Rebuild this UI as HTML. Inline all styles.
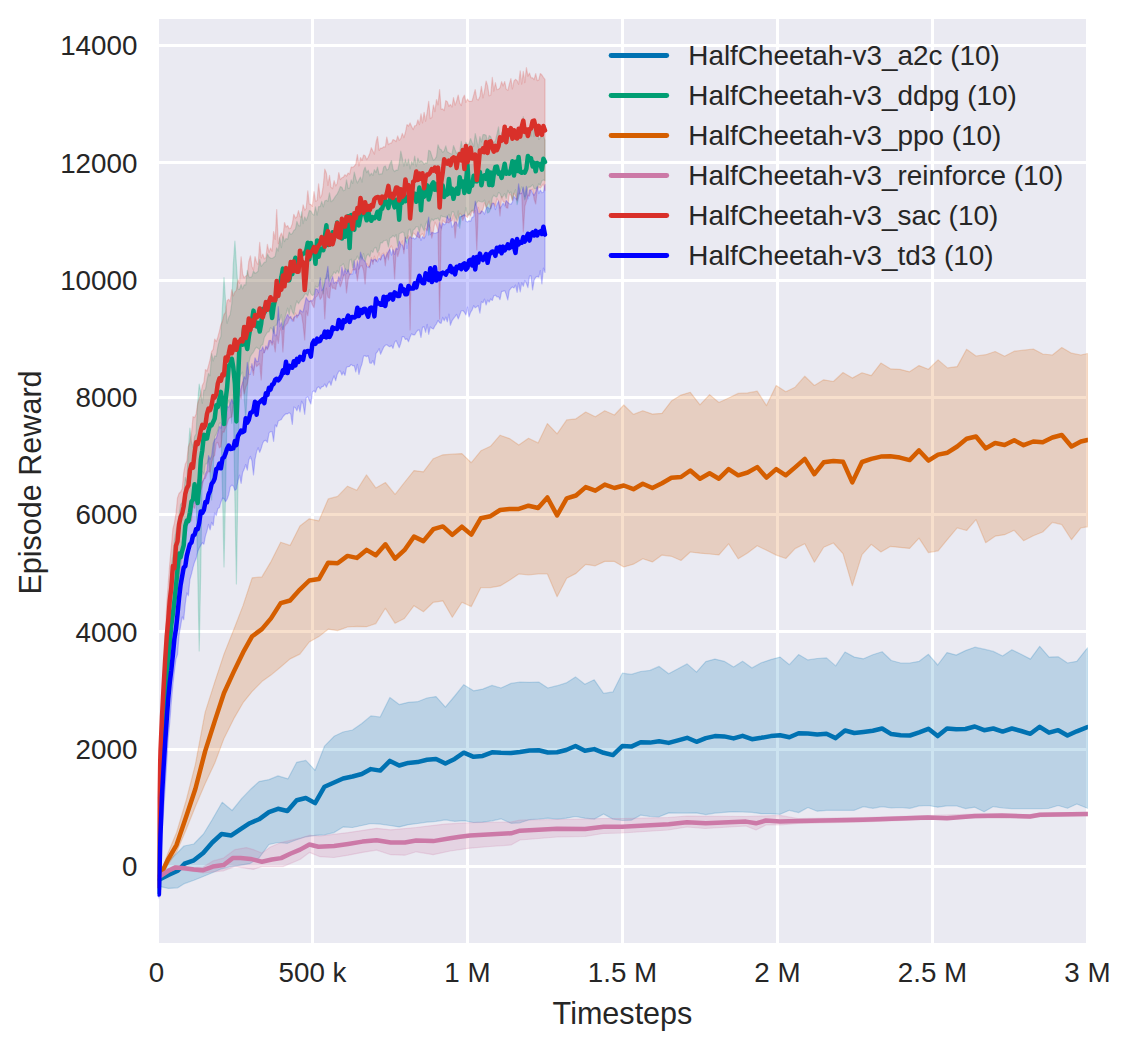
<!DOCTYPE html>
<html lang="en"><head><meta charset="utf-8"><title>HalfCheetah-v3 training curves</title>
<style>
html,body{margin:0;padding:0;background:#fff;}
body{width:1130px;height:1049px;overflow:hidden;}
svg{display:block;}
text{font-family:"Liberation Sans","DejaVu Sans",sans-serif;fill:#262626;}
.tk{font-size:27.78px;}
.lb{font-size:30.56px;}
.lg{font-size:27.88px;}
.band path{fill-opacity:.2;stroke-opacity:.2;stroke-width:1.2;stroke-linejoin:round;}
.mean path{fill:none;stroke-width:4.5;stroke-linejoin:round;stroke-linecap:round;}
.leg line{stroke-width:4.9;stroke-linecap:round;}
</style></head><body>
<svg width="1130" height="1049" viewBox="0 0 1130 1049">
<defs><clipPath id="ax"><rect x="157.5" y="19" width="930.4" height="924"/></clipPath>
</defs>
<rect x="0" y="0" width="1130" height="1049" fill="#ffffff"/>
<rect x="159" y="19" width="927" height="924" fill="#eaeaf2"/>
<g fill="#ffffff" shape-rendering="crispEdges">
<rect x="311" y="19" width="3" height="924"/>
<rect x="466" y="19" width="3" height="924"/>
<rect x="621" y="19" width="3" height="924"/>
<rect x="776" y="19" width="3" height="924"/>
<rect x="931" y="19" width="3" height="924"/>
<rect x="159" y="865" width="927" height="3"/>
<rect x="159" y="748" width="927" height="3"/>
<rect x="159" y="630" width="927" height="3"/>
<rect x="159" y="513" width="927" height="3"/>
<rect x="159" y="396" width="927" height="3"/>
<rect x="159" y="279" width="927" height="3"/>
<rect x="159" y="161" width="927" height="3"/>
<rect x="159" y="44" width="927" height="3"/>
</g>
<g class="band" clip-path="url(#ax)">
<path d="M159.5 876 L167.8 861.7 L176.6 853.5 L184 846 L193.8 844 L203.5 834 L212.3 819.5 L222.2 802.3 L232.1 810.5 L241.8 798.4 L251.2 788.7 L259 781.6 L269 779.6 L278 775.9 L288 778.8 L296.7 762.3 L305.8 760.4 L315.1 770.3 L324.5 746.2 L334.1 736.3 L343.1 732 L352.5 730 L361.8 723.5 L370.9 715.9 L380.2 717 L389.9 697.5 L399.2 704.6 L408.3 702.3 L417.6 701.7 L427 698 L436 696.6 L445.4 707.1 L454.7 696 L463.8 684.7 L473.6 690.8 L482.7 689.1 L492 685.4 L501 688 L511 683.4 L520 682 L529.4 682.3 L538.7 682 L547.8 688 L557.1 685.7 L566.2 682.9 L575.5 676.9 L584.9 684.3 L594.2 679.8 L603.6 693.4 L612.9 691.9 L622.3 673.2 L631.3 674.4 L640.7 671.5 L650 670.4 L659.1 666.4 L668.7 673.8 L678 668.7 L687.1 663.9 L696.5 672.1 L705.8 661.6 L714.9 659.1 L724.2 661.3 L733.6 667 L742.6 661.3 L752 667.9 L761.3 662.8 L770.8 659.6 L780.1 657.1 L789.4 664.7 L798.6 654.6 L807.9 659.9 L817.2 658.5 L826.5 657.9 L835.7 665.9 L845 652 L854.3 657.1 L863.5 658.8 L872.8 654.8 L882.1 651.7 L891.3 660.5 L900.6 663 L909.9 663 L919.2 661.3 L928.4 654.3 L937.7 665 L947 652.6 L956.2 655.1 L965.5 650.6 L974.8 647.2 L984.1 649.2 L993.3 651.4 L1002.6 656 L1011.9 649.7 L1021.1 654.3 L1030.4 659.1 L1039.7 646.3 L1049 657.1 L1058.2 656.8 L1067.5 663 L1076.8 661.3 L1087.5 647.8 L1087.5 808.3 L1076.8 804 L1067.5 808.3 L1058.2 805.5 L1049 808.3 L1039.7 808.6 L1030.4 808.6 L1021.1 808.6 L1011.9 808.6 L1002.6 808 L993.3 806.6 L984.1 811.7 L974.8 807.2 L965.5 808.6 L956.2 805.8 L947 805.8 L937.7 807.2 L928.4 805.5 L919.2 805.8 L909.9 808.3 L900.6 807.5 L891.3 808 L882.1 806.6 L872.8 808.3 L863.5 806.6 L854.3 810.3 L845 810.3 L835.7 810.3 L826.5 810.3 L817.2 811.2 L807.9 807.5 L798.6 812.6 L789.4 810.3 L780.1 814.3 L770.8 813.7 L761.3 813.7 L752 812.3 L742.6 812 L733.6 811.7 L724.2 812.3 L714.9 813.1 L705.8 814.6 L696.5 812.9 L687.1 813.1 L678 813.1 L668.7 812.9 L659.1 816.8 L650 816.5 L640.7 815.1 L631.3 820.2 L622.3 820.5 L612.9 819.1 L603.6 814 L594.2 819.1 L584.9 818.2 L575.5 816.5 L566.2 818.2 L557.1 819.1 L547.8 818.2 L538.7 819.1 L529.4 819.7 L520 822.8 L511 823.3 L501 818.8 L492 820.8 L482.7 822.2 L473.6 822.5 L463.8 820.7 L454.7 821.3 L445.4 819.8 L436 821.3 L427 822.1 L417.6 823.5 L408.3 824.7 L399.2 826.9 L389.9 825.5 L380.2 824.1 L370.9 823.5 L361.8 825.5 L352.5 827.5 L343.1 826.9 L334.1 832.6 L324.5 834.8 L315.1 835.4 L305.8 836.8 L296.7 839.7 L287.4 843.3 L278 842.5 L268.9 844.5 L259 858 L249.7 863.7 L240.6 865.2 L231.3 866.6 L221.6 868.8 L212.3 872.8 L203.2 876.5 L193.9 880.2 L184.5 883.6 L177.8 887.8 L168.4 888.4 L159.5 886.4Z" fill="#0072b2" stroke="#0072b2"/>
<path d="M158.9 884 L160.5 780 L162 729.9 L163.6 692 L165.1 659.2 L166.7 627.4 L168.2 603.9 L169.8 584.2 L171.3 565.9 L172.9 555.1 L174.4 540.5 L176 531.1 L177.5 523.4 L179.1 514.9 L180.6 504.3 L182.2 502.6 L183.7 495.4 L185.3 477.3 L186.8 482.1 L188.4 448.5 L189.9 428 L191.5 442 L193 447.6 L194.6 436.5 L196.1 433.7 L197.7 402.5 L199.2 384 L200.8 392.6 L202.3 403.3 L203.9 390 L205.4 389.9 L207 380.2 L208.5 373.4 L210.1 375.8 L211.6 353.6 L213.2 361 L214.7 355.9 L216.3 356.3 L217.8 347.1 L219.4 340.2 L220.9 336.6 L222.5 306.5 L224 277.5 L225.6 302 L227.1 323.3 L228.7 317.6 L230.2 314.4 L231.8 303.5 L233.3 264.6 L234.9 241 L236.4 264.5 L238 289 L239.5 289.3 L241.1 284.5 L242.6 288.9 L244.2 284.8 L245.7 285 L247.3 270.3 L248.8 276.7 L250.4 277.5 L251.9 276.4 L253.5 271 L255 273.3 L256.6 272.6 L258.1 271.1 L259.7 259.4 L261.2 266.3 L262.8 264.4 L264.3 262.4 L265.9 261.9 L267.4 253.9 L269 257 L270.5 258.1 L272.1 258.5 L273.6 257.5 L275.2 256.2 L276.7 247.8 L278.3 251 L279.8 237.7 L281.4 247.6 L282.9 235.9 L284.5 241.6 L286 238.5 L287.6 239.3 L289.2 232.1 L290.7 234.4 L292.3 233.5 L293.8 230.4 L295.4 229.3 L296.9 221.4 L298.5 225.6 L300 226 L301.6 211.9 L303.1 223.6 L304.7 216.8 L306.2 220.5 L307.8 216.2 L309.3 210.6 L310.9 211 L312.4 214.1 L314 215.2 L315.5 206.8 L317.1 215.1 L318.6 206.7 L320.2 206.6 L321.7 201.4 L323.3 206.8 L324.8 200.9 L326.4 200.2 L327.9 201.3 L329.5 192.9 L331 201.7 L332.6 200.6 L334.1 198.4 L335.7 195.9 L337.2 194.1 L338.8 190.7 L340.3 186.6 L341.9 187.3 L343.4 190.8 L345 190 L346.5 179.9 L348.1 188.3 L349.6 188.2 L351.2 179.9 L352.7 183.4 L354.3 172.2 L355.8 178.6 L357.4 183.1 L358.9 179.9 L360.5 177.1 L362 182.2 L363.6 171 L365.1 167.1 L366.7 172.6 L368.2 170.2 L369.8 175.8 L371.3 173.2 L372.9 175.4 L374.4 169.7 L376 172.5 L377.5 167.1 L379.1 174.6 L380.6 173.9 L382.2 173.8 L383.7 167.1 L385.3 166 L386.8 170.1 L388.4 169.2 L389.9 164.1 L391.5 160.6 L393 169.3 L394.6 171.6 L396.1 170.1 L397.7 170.4 L399.2 163.7 L400.8 151 L402.3 158.2 L403.9 166.2 L405.4 159.2 L407 165.6 L408.5 159.2 L410.1 168.8 L411.6 161.6 L413.2 164.8 L414.7 156.1 L416.3 166.5 L417.9 158.1 L419.4 162.2 L421 160.7 L422.5 161.8 L424.1 164.2 L425.6 162.9 L427.2 163.1 L428.7 150.3 L430.3 151.2 L431.8 156.1 L433.4 160.3 L434.9 159.3 L436.5 156.6 L438 144.8 L439.6 148.9 L441.1 149.6 L442.7 152.4 L444.2 150.8 L445.8 145.9 L447.3 151.8 L448.9 152.8 L450.4 153.5 L452 154.2 L453.5 145.5 L455.1 149.8 L456.6 153.4 L458.2 152 L459.7 152 L461.3 141.3 L462.8 151.1 L464.4 151.5 L465.9 142.3 L467.5 145 L469 143.7 L470.6 138.5 L472.1 142.4 L473.7 146.5 L475.2 133.5 L476.8 140.6 L478.3 148 L479.9 136.5 L481.4 142 L483 134.6 L484.5 134.6 L486.1 135.3 L487.6 142.2 L489.2 135.5 L490.7 136.8 L492.3 141 L493.8 142.4 L495.4 140.9 L496.9 134.5 L498.5 126.9 L500 141 L501.6 132.5 L503.1 138.3 L504.7 137.1 L506.2 133.5 L507.8 134 L509.3 137.9 L510.9 133.1 L512.4 134.2 L514 131.6 L515.5 139.1 L517.1 137.9 L518.6 135.9 L520.2 138.4 L521.7 131.4 L523.3 116.6 L524.8 130.3 L526.4 136.7 L527.9 136 L529.5 130.5 L531 136.1 L532.6 124.9 L534.1 136.7 L535.7 123.2 L537.2 125 L538.8 139.4 L540.3 137.8 L541.9 127.6 L543.4 136.3 L545 140.2 L545 180.7 L543.4 179.9 L541.9 180.8 L540.3 185.4 L538.8 183.7 L537.2 188 L535.7 188.6 L534.1 188.6 L532.6 184.6 L531 186.4 L529.5 187.2 L527.9 187.3 L526.4 194.9 L524.8 200 L523.3 192.4 L521.7 186.8 L520.2 191.7 L518.6 197.4 L517.1 204.6 L515.5 189.7 L514 193.5 L512.4 199.8 L510.9 191.8 L509.3 193.6 L507.8 190.3 L506.2 198.5 L504.7 193.6 L503.1 196.1 L501.6 198 L500 193.4 L498.5 192.5 L496.9 197.1 L495.4 196.6 L493.8 195.2 L492.3 197.7 L490.7 208.7 L489.2 211.9 L487.6 213 L486.1 206.4 L484.5 200 L483 202 L481.4 201.8 L479.9 201.5 L478.3 200.8 L476.8 202.5 L475.2 205.8 L473.7 210.8 L472.1 210.4 L470.6 212 L469 214.3 L467.5 215.4 L465.9 207.6 L464.4 215.6 L462.8 216 L461.3 216.9 L459.7 228.2 L458.2 210.9 L456.6 220 L455.1 216.6 L453.5 211.6 L452 211.9 L450.4 218.9 L448.9 214.3 L447.3 218.1 L445.8 217.3 L444.2 216.6 L442.7 216.7 L441.1 215.5 L439.6 221.2 L438 218 L436.5 218.9 L434.9 218.9 L433.4 220.7 L431.8 218.9 L430.3 222.2 L428.7 235.3 L427.2 220.9 L425.6 224.4 L424.1 230.8 L422.5 227.5 L421 224.2 L419.4 232.6 L417.9 226.6 L416.3 226.6 L414.7 229 L413.2 230.1 L411.6 237.6 L410.1 229.1 L408.5 230.2 L407 243.4 L405.4 240.6 L403.9 232.6 L402.3 232 L400.8 233 L399.2 233.8 L397.7 246 L396.1 234.7 L394.6 236.9 L393 235.4 L391.5 237.3 L389.9 238.2 L388.4 246.9 L386.8 240.1 L385.3 240.5 L383.7 240.8 L382.2 242.9 L380.6 242.6 L379.1 249.7 L377.5 252.6 L376 247.4 L374.4 248.1 L372.9 252.4 L371.3 250.6 L369.8 256.8 L368.2 254 L366.7 255.7 L365.1 261.6 L363.6 253.5 L362 259.8 L360.5 256.2 L358.9 259.7 L357.4 256.1 L355.8 259.7 L354.3 260.1 L352.7 267.9 L351.2 259.2 L349.6 260.3 L348.1 272 L346.5 270.2 L345 268.7 L343.4 263.6 L341.9 265.3 L340.3 266.1 L338.8 273.3 L337.2 270.5 L335.7 273.5 L334.1 271.8 L332.6 275.1 L331 276.9 L329.5 281.7 L327.9 274.9 L326.4 278.9 L324.8 278.7 L323.3 293.6 L321.7 279.3 L320.2 279.7 L318.6 286 L317.1 287.4 L315.5 286.1 L314 294.4 L312.4 295.5 L310.9 293.9 L309.3 289.6 L307.8 295.9 L306.2 293.6 L304.7 294.4 L303.1 297.8 L301.6 299.1 L300 301.1 L298.5 303.8 L296.9 300.8 L295.4 305.7 L293.8 314.4 L292.3 311.9 L290.7 305.7 L289.2 314.8 L287.6 308.2 L286 314.2 L284.5 318.6 L282.9 329.5 L281.4 314.5 L279.8 320.1 L278.3 320.1 L276.7 325.1 L275.2 325.4 L273.6 333.5 L272.1 328.7 L270.5 327.7 L269 331.9 L267.4 332.2 L265.9 334.7 L264.3 337.5 L262.8 344.8 L261.2 345.4 L259.7 349.4 L258.1 348.4 L256.6 347.2 L255 348.9 L253.5 352.1 L251.9 354 L250.4 356.3 L248.8 363.1 L247.3 390.1 L245.7 420 L244.2 397.5 L242.6 372 L241.1 374.3 L239.5 377.7 L238 481.7 L236.4 584 L234.9 499.5 L233.3 394.4 L231.8 423.3 L230.2 406 L228.7 400.4 L227.1 404.9 L225.6 490.9 L224 567 L222.5 491.2 L220.9 423.1 L219.4 423.2 L217.8 430.3 L216.3 434.1 L214.7 436.7 L213.2 469.6 L211.6 500 L210.1 474.3 L208.5 458.9 L207 463.8 L205.4 464.1 L203.9 474.6 L202.3 471.4 L200.8 566.3 L199.2 651 L197.7 569.4 L196.1 493.3 L194.6 490.4 L193 503.9 L191.5 507 L189.9 509.2 L188.4 512.3 L186.8 518.5 L185.3 522.9 L183.7 536.7 L182.2 541.9 L180.6 547.3 L179.1 566.1 L177.5 578.3 L176 587.4 L174.4 600.8 L172.9 616.7 L171.3 632.1 L169.8 653.7 L168.2 679.2 L166.7 703.9 L165.1 721.3 L163.6 747.4 L162 779 L160.5 823.8 L158.9 892Z" fill="#009e73" stroke="#009e73"/>
<path d="M159.5 874 L162.3 868 L167.8 853.5 L176.6 832.5 L186.3 800 L195.4 764.3 L205.1 712.4 L214.9 681.6 L224 654.1 L233.7 629.7 L243.1 605.4 L252.2 577.8 L261.9 576.9 L271 561.6 L280.7 542.2 L290.1 545.4 L299.9 525.9 L309.3 518.8 L318.9 520.8 L328.2 498.9 L337.6 496.4 L347.5 486.2 L356.8 490.2 L366.5 474.9 L375.8 487.9 L385.4 482.5 L395.1 494.4 L404.4 482.5 L414 470.6 L423.4 471.8 L433.3 458.7 L442.9 454.8 L452.3 454.2 L461.9 453.6 L471.3 462.7 L480.9 450.8 L490.5 446.3 L500.1 435.2 L509.5 438.6 L518.8 445.1 L528.5 438.3 L538.1 442.9 L547.4 423.6 L557.1 433.8 L566.7 419.9 L576 418.8 L585.7 412 L595.3 416.8 L604.8 410.7 L614.4 415 L623.8 405 L633.4 414.4 L642.8 410.7 L652.4 414.1 L662 413.3 L671.4 401.1 L681 395.1 L690.3 392.3 L700 404.8 L709.6 394.6 L718.9 402.5 L728.6 398 L738.2 393.4 L747.6 392.9 L757.2 391.2 L766.5 405.6 L776.2 385.5 L785.8 391.7 L795.1 387.2 L804.8 376.2 L814.4 385.5 L823.7 379.8 L833.4 381.5 L843 372.5 L852.3 378.1 L862 372.8 L871.3 375.6 L880.9 363.1 L890.3 368.8 L899.9 369.3 L909.6 371.8 L919 365.6 L928.4 369.3 L938.1 359.9 L947.5 367.9 L957.2 366.6 L966.6 349.3 L976 356 L985.7 354.7 L995.1 351.5 L1004.6 356.2 L1014.2 351.2 L1023.6 350.2 L1033.3 349 L1042.7 354 L1052.4 355 L1061.8 347.5 L1071.5 353.2 L1080.9 355 L1087.5 353.5 L1087.5 526.8 L1080.9 527.8 L1071.5 539.7 L1061.8 524.6 L1052.4 522.3 L1042.7 532 L1033.3 535.7 L1023.6 540.7 L1014.2 530.3 L1004.6 534.7 L995.1 536.2 L985.7 542.7 L976 519.6 L966.6 530.5 L957.2 527.8 L947.5 539.4 L938.1 550.8 L928.4 552.6 L919 538.2 L909.6 548.4 L899.9 547.4 L890.3 546.4 L880.9 552 L871.3 544.4 L862 554.6 L852.3 585.7 L843 553.7 L833.4 543 L823.7 547.2 L814.4 562.2 L804.8 543.8 L795.1 548.6 L785.8 558.5 L776.2 555.1 L766.5 550.3 L757.2 545.8 L747.6 552.9 L738.2 558.8 L728.6 543.8 L718.9 554.9 L709.6 554 L700 553.2 L690.3 552 L681 560.5 L671.4 556.3 L662 555.1 L652.4 561.9 L642.8 558.8 L633.4 564.2 L623.8 567 L614.4 561.4 L604.8 561.4 L595.3 565.8 L585.7 564.4 L576 573.4 L566.7 578.2 L557.1 596.7 L547.4 574 L538.1 574 L528.5 574.8 L518.8 574 L509.5 580.2 L500.1 585.9 L490.5 587.6 L480.9 587.6 L471.3 606.6 L461.9 602.3 L452.3 617.3 L442.9 600.9 L433.3 602.3 L423.4 611.7 L414 605.7 L404.4 618.5 L395.1 623.3 L385.4 608.3 L375.8 623.6 L366.5 626.7 L356.8 626.4 L347.5 627 L337.6 630.6 L328.2 629.2 L318.9 636.6 L309.3 642 L299.9 654.1 L290.1 658.9 L280.7 667 L271 675.1 L261.9 681.6 L252.2 691.4 L243.1 702.7 L233.7 718.9 L224 738.4 L214.9 762.7 L205.1 783.8 L195.4 806.5 L186.3 829.2 L176.6 852 L167.8 865 L162.3 873 L159.5 878Z" fill="#d55e00" stroke="#d55e00"/>
<path d="M159.5 875.5 L168.4 869.5 L175.5 865.5 L193.9 867.6 L203.2 867 L212.9 860.9 L223.6 858.1 L235 849.6 L246.3 847.6 L253.4 849.6 L261.9 853 L270.4 847 L281 842.5 L300 838.2 L309.4 835.4 L320 836 L348.2 832.6 L376.6 828.3 L390.7 829.8 L416.2 827.5 L444.5 824.1 L470 822.7 L511 822 L520 820 L557 819.5 L603 818.5 L622 818.5 L668 817.5 L687 816 L746 816.5 L780 815.4 L798 818.5 L863 817.5 L928 815.5 L975 814.2 L1030 814.7 L1040 813 L1087.5 812.3 L1087.5 815.7 L1040 816.6 L1030 818.3 L975 817.8 L928 819.4 L863 822 L798 823.5 L780 825 L766 825 L756 830 L746 826 L705 828.5 L687 827 L668 830 L622 833 L603 833.5 L585 836.5 L557 837 L520 840 L511 845 L490 846.5 L470 848.2 L450.2 851 L433.2 854.7 L416.2 851.8 L404.9 855.2 L390.7 854.7 L376.6 850.1 L362.4 852.4 L348.2 855.2 L334 857.5 L320 856.7 L309.4 852.4 L300 859.5 L283 866.6 L262 866.6 L253.4 869.4 L235 866.6 L223.6 870.8 L203.2 873 L193.9 871.3 L175.5 869.3 L168.4 872.3 L159.5 878Z" fill="#cc79a7" stroke="#cc79a7"/>
<path d="M158.9 880 L160.5 771.9 L162 721.8 L163.6 677.9 L165.1 640.7 L166.7 604.4 L168.2 583.9 L169.8 563.1 L171.3 547.6 L172.9 528.8 L174.4 523.2 L176 513.4 L177.5 497.9 L179.1 493.3 L180.6 492 L182.2 488.7 L183.7 472.9 L185.3 464.3 L186.8 461.1 L188.4 446.7 L189.9 442.4 L191.5 433 L193 416.7 L194.6 417.5 L196.1 414.1 L197.7 403.3 L199.2 398.9 L200.8 394.2 L202.3 385.6 L203.9 382.2 L205.4 369.5 L207 371.1 L208.5 365.7 L210.1 359.5 L211.6 351.7 L213.2 349.3 L214.7 339.1 L216.3 341.6 L217.8 337.2 L219.4 331.2 L220.9 324.7 L222.5 321.2 L224 314.6 L225.6 312.4 L227.1 300.6 L228.7 299.3 L230.2 301.7 L231.8 289.7 L233.3 295.9 L234.9 291.9 L236.4 290.3 L238 279.4 L239.5 283.3 L241.1 256.9 L242.6 273.9 L244.2 278 L245.7 276 L247.3 275.2 L248.8 261.5 L250.4 255.9 L251.9 266.2 L253.5 270.1 L255 256.5 L256.6 262.5 L258.1 264.5 L259.7 242.3 L261.2 257.9 L262.8 254 L264.3 258.8 L265.9 257.4 L267.4 244.4 L269 252.5 L270.5 248.1 L272.1 251.1 L273.6 231.5 L275.2 239.4 L276.7 209.5 L278.3 243.6 L279.8 236.8 L281.4 233 L282.9 237.9 L284.5 222.5 L286 227.1 L287.6 225.6 L289.2 228.7 L290.7 228.1 L292.3 223.7 L293.8 214.3 L295.4 218.1 L296.9 216.7 L298.5 210.6 L300 216.7 L301.6 216.8 L303.1 204.8 L304.7 210.2 L306.2 208.4 L307.8 190.9 L309.3 204 L310.9 204.6 L312.4 206.3 L314 191.7 L315.5 201.2 L317.1 200.5 L318.6 183.8 L320.2 197.9 L321.7 195.3 L323.3 185.5 L324.8 169.1 L326.4 173.3 L327.9 185.3 L329.5 175.3 L331 187.2 L332.6 188.5 L334.1 180.7 L335.7 185.9 L337.2 183.5 L338.8 172.6 L340.3 179.6 L341.9 177.8 L343.4 177.1 L345 174.7 L346.5 176.1 L348.1 173.1 L349.6 174.1 L351.2 167.1 L352.7 167.4 L354.3 166.1 L355.8 164.1 L357.4 154.5 L358.9 165.9 L360.5 157.5 L362 160.5 L363.6 155 L365.1 155.7 L366.7 159.7 L368.2 157.2 L369.8 153.4 L371.3 147.7 L372.9 151 L374.4 154.1 L376 142.4 L377.5 136.5 L379.1 150.3 L380.6 148 L382.2 148.1 L383.7 146.8 L385.3 147 L386.8 137 L388.4 144.6 L389.9 143.4 L391.5 142.9 L393 139.5 L394.6 140.2 L396.1 141.6 L397.7 135.9 L399.2 140.4 L400.8 138.4 L402.3 133.4 L403.9 137.6 L405.4 132.5 L407 124.6 L408.5 126.1 L410.1 122.9 L411.6 126.4 L413.2 129.6 L414.7 125.8 L416.3 125.5 L417.9 119.8 L419.4 124.6 L421 113.9 L422.5 123 L424.1 112.3 L425.6 121.2 L427.2 112 L428.7 101.3 L430.3 118.6 L431.8 117.6 L433.4 105 L434.9 111.7 L436.5 99.5 L438 104.9 L439.6 89.6 L441.1 109.1 L442.7 108.9 L444.2 110.5 L445.8 100.6 L447.3 101.8 L448.9 106.3 L450.4 104.5 L452 107 L453.5 97.5 L455.1 105.2 L456.6 101.1 L458.2 95 L459.7 103 L461.3 105.6 L462.8 98.2 L464.4 95.2 L465.9 102.3 L467.5 99.1 L469 101.3 L470.6 101.3 L472.1 101 L473.7 95.1 L475.2 89.5 L476.8 99.2 L478.3 100 L479.9 96.5 L481.4 86.3 L483 97.9 L484.5 91 L486.1 81 L487.6 85.9 L489.2 95.8 L490.7 95.3 L492.3 77.4 L493.8 91.2 L495.4 82.7 L496.9 89.7 L498.5 89.2 L500 87.8 L501.6 81.7 L503.1 86 L504.7 81.5 L506.2 89.1 L507.8 90.4 L509.3 84.4 L510.9 78.6 L512.4 88.9 L514 80.8 L515.5 79.3 L517.1 80.6 L518.6 84.2 L520.2 70.8 L521.7 84.2 L523.3 71.4 L524.8 82.6 L526.4 67.7 L527.9 76.1 L529.5 73.1 L531 77.7 L532.6 77.8 L534.1 79.6 L535.7 73.7 L537.2 80.6 L538.8 79.9 L540.3 73.5 L541.9 75 L543.4 77.4 L545 79.4 L545 190.6 L543.4 184.1 L541.9 185.8 L540.3 188.1 L538.8 186.9 L537.2 190 L535.7 204 L534.1 199.1 L532.6 189.2 L531 189.9 L529.5 196.2 L527.9 195.3 L526.4 201.3 L524.8 206.5 L523.3 232 L521.7 193.6 L520.2 193.6 L518.6 193.3 L517.1 200.9 L515.5 195.9 L514 193.2 L512.4 200.7 L510.9 195.2 L509.3 194.2 L507.8 208.1 L506.2 207.7 L504.7 201.8 L503.1 201.7 L501.6 196.5 L500 216 L498.5 201 L496.9 198.7 L495.4 206.4 L493.8 203.4 L492.3 203 L490.7 208.8 L489.2 201 L487.6 204.7 L486.1 207.6 L484.5 202.9 L483 209.3 L481.4 212.6 L479.9 213.9 L478.3 207.4 L476.8 250 L475.2 210.6 L473.7 213.2 L472.1 210.1 L470.6 215.9 L469 213.8 L467.5 217.6 L465.9 215.9 L464.4 216.1 L462.8 220.5 L461.3 214.8 L459.7 213.3 L458.2 218.4 L456.6 222.9 L455.1 238 L453.5 214.8 L452 220.9 L450.4 221 L448.9 222.9 L447.3 222.2 L445.8 222.7 L444.2 222 L442.7 220.1 L441.1 231.4 L439.6 319 L438 230.1 L436.5 225.6 L434.9 222.1 L433.4 230.8 L431.8 238.1 L430.3 228.3 L428.7 225 L427.2 230.9 L425.6 228.5 L424.1 237.4 L422.5 233.6 L421 235 L419.4 238 L417.9 237.1 L416.3 236 L414.7 234.1 L413.2 233.1 L411.6 238.7 L410.1 330 L408.5 235.8 L407 238.7 L405.4 237.9 L403.9 253.7 L402.3 240.9 L400.8 245.1 L399.2 251 L397.7 256.7 L396.1 249.4 L394.6 279 L393 251.3 L391.5 245.9 L389.9 248.2 L388.4 259.8 L386.8 252.3 L385.3 265.8 L383.7 253 L382.2 254.1 L380.6 260.2 L379.1 252.5 L377.5 259.6 L376 261.7 L374.4 256.2 L372.9 264.3 L371.3 257.5 L369.8 267.8 L368.2 266 L366.7 263.4 L365.1 284 L363.6 270.5 L362 265.5 L360.5 266.1 L358.9 269.2 L357.4 280.8 L355.8 269 L354.3 270 L352.7 269.6 L351.2 273.4 L349.6 274.9 L348.1 279.5 L346.5 293 L345 274.3 L343.4 276.4 L341.9 282.3 L340.3 286.8 L338.8 281.7 L337.2 280.3 L335.7 289.5 L334.1 288 L332.6 288.3 L331 283.4 L329.5 298.2 L327.9 297.1 L326.4 288.1 L324.8 319 L323.3 290.2 L321.7 297.2 L320.2 299.3 L318.6 293.1 L317.1 296.1 L315.5 297.4 L314 307.7 L312.4 304.7 L310.9 301 L309.3 301.7 L307.8 315.7 L306.2 310.9 L304.7 340 L303.1 324.4 L301.6 315 L300 312.8 L298.5 315 L296.9 317.9 L295.4 313 L293.8 321.3 L292.3 319.4 L290.7 318.1 L289.2 318.6 L287.6 323.1 L286 324.6 L284.5 326.6 L282.9 352 L281.4 327.1 L279.8 331.4 L278.3 343.3 L276.7 335.3 L275.2 352 L273.6 341 L272.1 345.2 L270.5 340.6 L269 345.7 L267.4 349.8 L265.9 347.7 L264.3 352.6 L262.8 353.5 L261.2 380 L259.7 363.6 L258.1 365 L256.6 366.5 L255 361.7 L253.5 375.3 L251.9 367.7 L250.4 366.8 L248.8 375.4 L247.3 383.8 L245.7 387.6 L244.2 394 L242.6 382 L241.1 399 L239.5 393.3 L238 388.8 L236.4 401.9 L234.9 396.7 L233.3 406.3 L231.8 416.9 L230.2 417.5 L228.7 418.7 L227.1 423.7 L225.6 427.5 L224 432.2 L222.5 431.9 L220.9 446.7 L219.4 447.9 L217.8 442.4 L216.3 443.2 L214.7 455.2 L213.2 457.2 L211.6 463.1 L210.1 472.1 L208.5 471.2 L207 473.6 L205.4 478.4 L203.9 478.7 L202.3 485.5 L200.8 491 L199.2 496.1 L197.7 501.2 L196.1 501.4 L194.6 508.5 L193 506 L191.5 520.8 L189.9 518.9 L188.4 520.2 L186.8 528.4 L185.3 542.4 L183.7 544.8 L182.2 552.7 L180.6 567.7 L179.1 580.4 L177.5 581.1 L176 592.7 L174.4 608.2 L172.9 624.1 L171.3 638.2 L169.8 662.2 L168.2 683.8 L166.7 706.7 L165.1 724.1 L163.6 749.6 L162 780.5 L160.5 824.2 L158.9 892Z" fill="#d9302a" stroke="#d9302a"/>
<path d="M158.9 890 L160.5 823.6 L162 785.2 L163.6 747.9 L165.1 709.5 L166.7 682.8 L168.2 657 L169.8 638.3 L171.3 617.4 L172.9 605.2 L174.4 593.6 L176 579 L177.5 564.4 L179.1 563.6 L180.6 554.4 L182.2 547.3 L183.7 536 L185.3 525.1 L186.8 525.4 L188.4 523.8 L189.9 517.6 L191.5 504.7 L193 488.8 L194.6 503.2 L196.1 497.6 L197.7 479.7 L199.2 485 L200.8 483.5 L202.3 481.8 L203.9 479.3 L205.4 473.9 L207 470.4 L208.5 455.6 L210.1 459.2 L211.6 456.2 L213.2 443.4 L214.7 439.5 L216.3 438.1 L217.8 432.8 L219.4 426.4 L220.9 428.1 L222.5 420.6 L224 417.7 L225.6 417.7 L227.1 405.9 L228.7 407.4 L230.2 403.5 L231.8 399.1 L233.3 403.5 L234.9 400 L236.4 395.3 L238 397 L239.5 393.9 L241.1 387.3 L242.6 382.9 L244.2 376.7 L245.7 378.9 L247.3 362.3 L248.8 373.9 L250.4 374.3 L251.9 363.7 L253.5 370.3 L255 357.8 L256.6 361.6 L258.1 361.3 L259.7 350 L261.2 350.7 L262.8 346.7 L264.3 352.6 L265.9 345.9 L267.4 348 L269 340.5 L270.5 340.4 L272.1 342.5 L273.6 326.5 L275.2 335.9 L276.7 334.2 L278.3 306.7 L279.8 326.6 L281.4 322.7 L282.9 329.4 L284.5 321.5 L286 318.1 L287.6 314.3 L289.2 317.3 L290.7 316.4 L292.3 321.1 L293.8 317.5 L295.4 316.2 L296.9 314.9 L298.5 315.5 L300 309.8 L301.6 311.5 L303.1 311.8 L304.7 304.4 L306.2 297.5 L307.8 300.3 L309.3 301.6 L310.9 300.4 L312.4 300.9 L314 298 L315.5 288.9 L317.1 289.1 L318.6 292.7 L320.2 277.5 L321.7 290.6 L323.3 288.3 L324.8 282.9 L326.4 275 L327.9 266.3 L329.5 286.4 L331 281.1 L332.6 276.5 L334.1 283.3 L335.7 281.9 L337.2 283.1 L338.8 276.6 L340.3 280.7 L341.9 266.8 L343.4 275.1 L345 268.9 L346.5 273.6 L348.1 269.4 L349.6 274.4 L351.2 273.9 L352.7 273.9 L354.3 260.8 L355.8 273.1 L357.4 260.8 L358.9 269.2 L360.5 252.1 L362 256.9 L363.6 259.8 L365.1 261.4 L366.7 266.1 L368.2 267.4 L369.8 265.8 L371.3 259.1 L372.9 261.1 L374.4 259.1 L376 259.9 L377.5 261.9 L379.1 258.1 L380.6 259.6 L382.2 255.5 L383.7 254.2 L385.3 258.9 L386.8 254.5 L388.4 251.6 L389.9 249 L391.5 255.1 L393 249.5 L394.6 254.4 L396.1 248.1 L397.7 249.3 L399.2 241 L400.8 244.5 L402.3 245 L403.9 249.5 L405.4 237.2 L407 248.4 L408.5 239.4 L410.1 236.5 L411.6 238.5 L413.2 237.8 L414.7 239.1 L416.3 237.7 L417.9 231.6 L419.4 234.9 L421 240.5 L422.5 236.5 L424.1 238.6 L425.6 235.8 L427.2 226.3 L428.7 217 L430.3 234.6 L431.8 232.4 L433.4 232.8 L434.9 233.5 L436.5 232.7 L438 232.3 L439.6 222.4 L441.1 228.1 L442.7 223 L444.2 224.8 L445.8 223.4 L447.3 215.8 L448.9 220.2 L450.4 217.7 L452 227.2 L453.5 225.4 L455.1 221.7 L456.6 222.4 L458.2 226.2 L459.7 216.9 L461.3 216.4 L462.8 215.5 L464.4 214.5 L465.9 220.9 L467.5 222 L469 220.7 L470.6 221.4 L472.1 217.3 L473.7 216.7 L475.2 201 L476.8 207.2 L478.3 213.7 L479.9 213.6 L481.4 210.9 L483 211.7 L484.5 214.2 L486.1 208.7 L487.6 206.9 L489.2 208.9 L490.7 207.7 L492.3 203.3 L493.8 203.3 L495.4 209.6 L496.9 204.8 L498.5 201 L500 208.2 L501.6 206 L503.1 203 L504.7 205.9 L506.2 200.5 L507.8 202.5 L509.3 203.7 L510.9 204.3 L512.4 202.2 L514 196.4 L515.5 198.7 L517.1 198.8 L518.6 183.8 L520.2 193.9 L521.7 193 L523.3 187 L524.8 196.4 L526.4 186.3 L527.9 198.9 L529.5 189.9 L531 190 L532.6 193.3 L534.1 195.3 L535.7 191.9 L537.2 186.6 L538.8 193.6 L540.3 190 L541.9 192.8 L543.4 192.2 L545 184.7 L545 272.5 L543.4 268.1 L541.9 283.9 L540.3 270.6 L538.8 277.1 L537.2 276.4 L535.7 277.3 L534.1 280.3 L532.6 290 L531 275.9 L529.5 276.1 L527.9 287.6 L526.4 283.2 L524.8 280.5 L523.3 286.3 L521.7 282.8 L520.2 291.8 L518.6 282.9 L517.1 292.3 L515.5 285 L514 287.9 L512.4 286.9 L510.9 288.3 L509.3 290.4 L507.8 300 L506.2 294.4 L504.7 290.5 L503.1 291.3 L501.6 291.4 L500 299.7 L498.5 296.6 L496.9 296.8 L495.4 295.2 L493.8 295.8 L492.3 300.5 L490.7 298.9 L489.2 302.1 L487.6 300.1 L486.1 305 L484.5 299.1 L483 302.7 L481.4 301.7 L479.9 313.1 L478.3 305.6 L476.8 306.7 L475.2 307.8 L473.7 305.7 L472.1 310 L470.6 312.3 L469 316.9 L467.5 307.1 L465.9 314.9 L464.4 312.2 L462.8 310.5 L461.3 310.8 L459.7 315.3 L458.2 318.9 L456.6 314.4 L455.1 316.6 L453.5 318.6 L452 320.8 L450.4 325.3 L448.9 314.1 L447.3 321.9 L445.8 317 L444.2 320.8 L442.7 317.4 L441.1 323.4 L439.6 322.7 L438 320.4 L436.5 323.8 L434.9 326 L433.4 328.9 L431.8 328.3 L430.3 327 L428.7 334.3 L427.2 324.4 L425.6 332.3 L424.1 326.6 L422.5 327.4 L421 337.5 L419.4 330 L417.9 330.2 L416.3 332.1 L414.7 335 L413.2 334.9 L411.6 333.8 L410.1 337.1 L408.5 341.8 L407 338.9 L405.4 339.5 L403.9 336.7 L402.3 336.7 L400.8 343.2 L399.2 347.7 L397.7 344.3 L396.1 340.6 L394.6 342.3 L393 348.4 L391.5 345.4 L389.9 346.8 L388.4 346.1 L386.8 344.8 L385.3 345.3 L383.7 347.2 L382.2 350.6 L380.6 354.3 L379.1 348.7 L377.5 351.7 L376 353.5 L374.4 365 L372.9 360.6 L371.3 363.3 L369.8 363 L368.2 355.6 L366.7 356.6 L365.1 355.9 L363.6 356 L362 363.9 L360.5 368.1 L358.9 374.5 L357.4 364.3 L355.8 372 L354.3 365.9 L352.7 365.7 L351.2 364.4 L349.6 366.4 L348.1 366.7 L346.5 367.3 L345 375.4 L343.4 371.9 L341.9 375 L340.3 371.1 L338.8 371.2 L337.2 374.4 L335.7 380.7 L334.1 375.9 L332.6 379.4 L331 385.4 L329.5 381.3 L327.9 383.6 L326.4 387.3 L324.8 384 L323.3 386.4 L321.7 386.9 L320.2 389 L318.6 386.6 L317.1 388 L315.5 392.3 L314 390.8 L312.4 392 L310.9 404 L309.3 400.6 L307.8 396.7 L306.2 397.8 L304.7 414.3 L303.1 404.1 L301.6 401.2 L300 412 L298.5 405.6 L296.9 410.8 L295.4 407.8 L293.8 407.1 L292.3 424.4 L290.7 414 L289.2 412.6 L287.6 413.9 L286 413.7 L284.5 415 L282.9 416.8 L281.4 419.5 L279.8 420.3 L278.3 421 L276.7 426.9 L275.2 424.9 L273.6 441.5 L272.1 431.6 L270.5 431.6 L269 433.1 L267.4 442.3 L265.9 440.4 L264.3 440.7 L262.8 442.8 L261.2 448.4 L259.7 452.4 L258.1 447.7 L256.6 451.6 L255 459.5 L253.5 474.9 L251.9 460.8 L250.4 456.4 L248.8 459.9 L247.3 470.2 L245.7 464.5 L244.2 469.1 L242.6 472.7 L241.1 483.4 L239.5 475.1 L238 480.4 L236.4 489 L234.9 490.3 L233.3 486 L231.8 485.1 L230.2 486.8 L228.7 494.7 L227.1 499.3 L225.6 501.7 L224 498.5 L222.5 498.2 L220.9 502.2 L219.4 507.6 L217.8 508.7 L216.3 515.6 L214.7 513.1 L213.2 525.4 L211.6 522.3 L210.1 529.9 L208.5 524.4 L207 530.8 L205.4 536.1 L203.9 544.2 L202.3 542.7 L200.8 545.3 L199.2 548.1 L197.7 551.8 L196.1 558.6 L194.6 561.9 L193 567.6 L191.5 573.8 L189.9 579.5 L188.4 595.6 L186.8 592.9 L185.3 603.4 L183.7 619.6 L182.2 616.9 L180.6 626.1 L179.1 634.7 L177.5 654.6 L176 658.7 L174.4 671 L172.9 684.6 L171.3 702.6 L169.8 722.3 L168.2 738.5 L166.7 763.2 L165.1 788.9 L163.6 811.1 L162 834.8 L160.5 862.5 L158.9 898Z" fill="#0000ff" stroke="#0000ff"/>
</g>
<g class="mean" clip-path="url(#ax)">
<path d="M159.5 879.5 L168.4 875 L177.8 870.8 L184.5 863.7 L193.9 860.3 L203.2 853 L212.3 842.5 L221.6 834 L231.3 835.4 L240.6 829.2 L249.7 823.2 L259 819.3 L268.9 812.2 L278 808.8 L287.4 811 L296.7 800.3 L305.8 798 L315.1 803.1 L324.5 786.7 L334.1 782.5 L343.1 778.5 L352.5 776.5 L361.8 774 L370.9 769.1 L380.2 770.6 L389.9 760.9 L399.2 765.5 L408.3 762.9 L417.6 762.1 L427 759.8 L436 758.9 L445.4 763.5 L454.7 758.9 L463.8 752.7 L473.6 756.8 L482.7 755.9 L492 752.3 L501 752.8 L511 753.1 L520 752 L529.4 750.6 L538.7 750.3 L547.8 752.5 L557.1 752.3 L566.2 750 L575.5 746 L584.9 750.8 L594.2 749.1 L603.6 752.8 L612.9 755.1 L622.3 746 L631.3 746.6 L640.7 742.3 L650 742.6 L659.1 741.2 L668.7 742.9 L678 740.4 L687.1 737.8 L696.5 741.8 L705.8 738.1 L714.9 736.1 L724.2 736.4 L733.6 738.4 L742.6 735.8 L752 739.2 L761.3 737.8 L770.8 736.1 L780.1 735.3 L789.4 737.2 L798.6 733.3 L807.9 733.6 L817.2 734.4 L826.5 733.8 L835.7 738.1 L845 730.5 L854.3 733 L863.5 731.9 L872.8 730.7 L882.1 728.5 L891.3 734.1 L900.6 735.3 L909.9 735.5 L919.2 732.4 L928.4 728.8 L937.7 736.1 L947 728.5 L956.2 729.3 L965.5 729 L974.8 726.5 L984.1 730.2 L993.3 728.5 L1002.6 731.6 L1011.9 728.5 L1021.1 731 L1030.4 733.8 L1039.7 726.8 L1049 732.7 L1058.2 730.2 L1067.5 735.5 L1076.8 731.3 L1087.5 727" stroke="#0072b2"/>
<path d="M158.3 892 L158.9 889 L160.5 790 L162 751.4 L163.6 726.6 L165.1 701.7 L166.7 674.7 L168.2 658.6 L169.8 642.4 L171.3 625.2 L172.9 613.8 L174.4 601.2 L176 586.3 L177.5 569.5 L179.1 553.6 L180.6 557.1 L182.2 550.8 L183.7 545.4 L185.3 525.8 L186.8 520.5 L188.4 521.2 L189.9 512.6 L191.5 501.7 L193 499.7 L194.6 484.3 L196.1 494.9 L197.7 503 L199.2 485.6 L200.8 459.7 L202.3 450.3 L203.9 434.7 L205.4 438.7 L207 438.5 L208.5 430.7 L210.1 424.8 L211.6 425.4 L213.2 421.9 L214.7 418.6 L216.3 405.3 L217.8 407 L219.4 399 L220.9 391.9 L222.5 404.1 L224 424 L225.6 399.8 L227.1 387.6 L228.7 366 L230.2 364.2 L231.8 358.7 L233.3 367.5 L234.9 383.5 L236.4 421.5 L238 381.8 L239.5 344.1 L241.1 341 L242.6 344.6 L244.2 327.3 L245.7 342.3 L247.3 349 L248.8 337 L250.4 327.4 L251.9 320.9 L253.5 310.6 L255 324.3 L256.6 326.4 L258.1 322.8 L259.7 331.5 L261.2 323.5 L262.8 309 L264.3 312.7 L265.9 309.6 L267.4 302 L269 305.5 L270.5 304.3 L272.1 318 L273.6 306.5 L275.2 299.1 L276.7 295 L278.3 285 L279.8 284.3 L281.4 277.1 L282.9 268.6 L284.5 278.8 L286 277.3 L287.6 270 L289.2 280.4 L290.7 273.3 L292.3 274 L293.8 264.2 L295.4 257.8 L296.9 270.1 L298.5 263.9 L300 258.3 L301.6 254.9 L303.1 253.6 L304.7 253.2 L306.2 250.8 L307.8 242.7 L309.3 259.3 L310.9 243.1 L312.4 252.4 L314 250.3 L315.5 263.8 L317.1 240.4 L318.6 256.7 L320.2 248.8 L321.7 249.3 L323.3 250.2 L324.8 237.1 L326.4 225.3 L327.9 244.9 L329.5 244.8 L331 242.5 L332.6 232.3 L334.1 235.4 L335.7 235.4 L337.2 222.5 L338.8 229.9 L340.3 227.2 L341.9 238.5 L343.4 222.6 L345 236.7 L346.5 224.2 L348.1 216.3 L349.6 248.1 L351.2 215.1 L352.7 227.2 L354.3 229.6 L355.8 215.7 L357.4 213.5 L358.9 225.4 L360.5 216.7 L362 210.5 L363.6 211.6 L365.1 214.3 L366.7 220.3 L368.2 211.3 L369.8 217.4 L371.3 220.7 L372.9 217.2 L374.4 218.2 L376 216.4 L377.5 211.7 L379.1 218.8 L380.6 209.8 L382.2 208.6 L383.7 203.1 L385.3 200.9 L386.8 203.4 L388.4 207.9 L389.9 199.5 L391.5 202 L393 201.4 L394.6 207.4 L396.1 199.8 L397.7 201 L399.2 219.7 L400.8 196.2 L402.3 202.7 L403.9 191.9 L405.4 201.2 L407 197.8 L408.5 198.3 L410.1 194.3 L411.6 191.6 L413.2 195.7 L414.7 193.5 L416.3 201.7 L417.9 198.9 L419.4 187.5 L421 210.3 L422.5 190.4 L424.1 196.9 L425.6 189.9 L427.2 185.4 L428.7 199.5 L430.3 193.1 L431.8 184.7 L433.4 182.3 L434.9 189.8 L436.5 184.3 L438 189.4 L439.6 193.3 L441.1 196.7 L442.7 185.6 L444.2 196.9 L445.8 193 L447.3 194.5 L448.9 179 L450.4 193.4 L452 188.7 L453.5 198.8 L455.1 191.2 L456.6 188.7 L458.2 193.7 L459.7 177.2 L461.3 186.6 L462.8 181.5 L464.4 192.9 L465.9 183.5 L467.5 164.8 L469 192.1 L470.6 184.5 L472.1 185.7 L473.7 175.7 L475.2 181 L476.8 181.4 L478.3 178.2 L479.9 171.9 L481.4 185.3 L483 176.5 L484.5 175.3 L486.1 178.8 L487.6 170.6 L489.2 184.9 L490.7 172.5 L492.3 185.3 L493.8 174.2 L495.4 167 L496.9 166.6 L498.5 173.8 L500 172.6 L501.6 177.9 L503.1 171.5 L504.7 163.8 L506.2 173.7 L507.8 172.9 L509.3 173.6 L510.9 169.3 L512.4 161.2 L514 175.4 L515.5 161.7 L517.1 171.1 L518.6 156.9 L520.2 171.9 L521.7 172.8 L523.3 171.9 L524.8 172.6 L526.4 168.6 L527.9 156 L529.5 159.1 L531 158.3 L532.6 166.4 L534.1 162.8 L535.7 171.3 L537.2 163 L538.8 164.2 L540.3 164.1 L541.9 169.6 L543.4 158.8 L545 162.1" stroke="#009e73"/>
<path d="M159.5 876 L162.3 871.4 L167.8 860 L176.6 844.8 L186.3 816.2 L195.4 788.7 L205.1 751.4 L214.9 720.6 L224 693 L233.7 671.9 L243.1 652.4 L252.2 636.2 L261.9 629.1 L271 618.4 L280.7 603.1 L290.1 600.5 L299.9 589.6 L309.3 580.5 L318.9 579.1 L328.2 562.7 L337.6 563.2 L347.5 555.9 L356.8 557.9 L366.5 549.9 L375.8 555.3 L385.4 544.3 L395.1 558.7 L404.4 550.2 L414 536.6 L423.4 541.1 L433.3 529.2 L442.9 526.4 L452.3 534.9 L461.9 526.7 L471.3 534.6 L480.9 518.2 L490.5 516.2 L500.1 510 L509.5 508.9 L518.8 508.9 L528.5 505.7 L538.1 508 L547.4 497.5 L557.1 515.4 L566.7 498.4 L576 495.5 L585.7 487.1 L595.3 490.7 L604.8 484.6 L614.4 488 L623.8 485.5 L633.4 489.2 L642.8 483.8 L652.4 488 L662 483.2 L671.4 477.8 L681 477 L690.3 470.5 L700 478.7 L709.6 473.3 L718.9 478.7 L728.6 469.1 L738.2 475.3 L747.6 472.5 L757.2 467.1 L766.5 477.6 L776.2 469.1 L785.8 475.3 L795.1 467.4 L804.8 458.9 L814.4 474.2 L823.7 462.3 L833.4 461.1 L843 461.7 L852.3 482.4 L862 462 L871.3 458.9 L880.9 456.6 L890.3 456.3 L899.9 457.6 L909.6 460.1 L919 450.4 L928.4 460.6 L938.1 454.6 L947.5 452.7 L957.2 446.5 L966.6 438.8 L976 436.5 L985.7 448.4 L995.1 443 L1004.6 445 L1014.2 440.3 L1023.6 445.2 L1033.3 441.5 L1042.7 442.2 L1052.4 437.5 L1061.8 435 L1071.5 446.5 L1080.9 441.5 L1087.5 440" stroke="#d55e00"/>
<path d="M159.5 876.5 L168.4 870.8 L175.5 867.4 L184.5 868.3 L193.9 869.4 L203.2 870.2 L212.9 866.6 L223.6 865.1 L232.7 858.1 L240.6 858.1 L250.5 858.9 L261.9 861.7 L271.8 859.5 L281.1 858.1 L290.2 853.8 L300.1 849.6 L309.4 844.5 L318.5 846.7 L334.1 845.9 L348.2 843.9 L362.4 841.6 L376.6 840.2 L390.7 842.5 L404.9 842.5 L416.2 840.5 L433.2 841.1 L450.2 838.2 L460 836.7 L470 835.6 L511 833.3 L520 830.7 L557 828.7 L585 829 L603.6 826.7 L622 826.7 L668.7 824.2 L687 822.2 L705.8 823.3 L746 821.6 L756 823.3 L765.9 820.5 L780 821.4 L798 821 L863 819.7 L928 817.4 L947 818.2 L975 816 L1002 815.4 L1030 816.5 L1040 814.8 L1087.5 814" stroke="#cc79a7"/>
<path d="M157.7 886 L158.9 812 L160.5 751 L162 716.7 L163.6 686.7 L165.1 660.8 L166.7 636.8 L168.2 620.6 L169.8 600 L171.3 587.9 L172.9 566.1 L174.4 568.1 L176 545.7 L177.5 541.5 L179.1 524.3 L180.6 517.2 L182.2 513.4 L183.7 506.4 L185.3 493.8 L186.8 488.4 L188.4 485.4 L189.9 470.6 L191.5 464.2 L193 467.7 L194.6 452.7 L196.1 442.3 L197.7 444.1 L199.2 438.8 L200.8 430.3 L202.3 424.9 L203.9 427.8 L205.4 424.9 L207 413.8 L208.5 408.6 L210.1 410 L211.6 405.4 L213.2 396.1 L214.7 397.6 L216.3 394.2 L217.8 383.6 L219.4 378.4 L220.9 380.6 L222.5 374.2 L224 375.1 L225.6 357.5 L227.1 360.6 L228.7 353.8 L230.2 346.5 L231.8 353.3 L233.3 349 L234.9 339.7 L236.4 349.8 L238 342 L239.5 341.8 L241.1 339.2 L242.6 341.3 L244.2 327.1 L245.7 338.1 L247.3 331.5 L248.8 318.4 L250.4 329.8 L251.9 320.4 L253.5 325.6 L255 315.1 L256.6 317.5 L258.1 316.3 L259.7 308.5 L261.2 316.2 L262.8 317.3 L264.3 311.2 L265.9 302.1 L267.4 309.7 L269 301.8 L270.5 297.2 L272.1 300.1 L273.6 300 L275.2 300.3 L276.7 280.9 L278.3 295.9 L279.8 285.8 L281.4 289.6 L282.9 275.5 L284.5 286.2 L286 268 L287.6 280.4 L289.2 278.2 L290.7 262.1 L292.3 271.3 L293.8 261.4 L295.4 270 L296.9 271.7 L298.5 271.7 L300 250.7 L301.6 261 L303.1 262.4 L304.7 290 L306.2 273.3 L307.8 251.5 L309.3 256.7 L310.9 252 L312.4 250.9 L314 247 L315.5 252 L317.1 248.3 L318.6 245.5 L320.2 243.8 L321.7 237.1 L323.3 241.3 L324.8 246.6 L326.4 236.1 L327.9 231.1 L329.5 244.7 L331 234.9 L332.6 244.2 L334.1 238.5 L335.7 229.6 L337.2 223 L338.8 237.2 L340.3 237.6 L341.9 218.8 L343.4 223.7 L345 226.6 L346.5 216.7 L348.1 220.6 L349.6 217.1 L351.2 219 L352.7 229.1 L354.3 213.2 L355.8 218.2 L357.4 208.1 L358.9 213.3 L360.5 198 L362 204.8 L363.6 212.8 L365.1 202.2 L366.7 210 L368.2 206.2 L369.8 210 L371.3 205 L372.9 206.3 L374.4 199.3 L376 197.6 L377.5 197 L379.1 197.5 L380.6 203.3 L382.2 196.6 L383.7 197 L385.3 197.7 L386.8 193.6 L388.4 185.9 L389.9 196.5 L391.5 193.8 L393 198 L394.6 193.2 L396.1 187.5 L397.7 187.8 L399.2 200.4 L400.8 189.3 L402.3 196.9 L403.9 194.9 L405.4 179.5 L407 188.9 L408.5 185.1 L410.1 218.5 L411.6 201.3 L413.2 181.5 L414.7 180.9 L416.3 171.4 L417.9 179.9 L419.4 173.5 L421 178.8 L422.5 173.2 L424.1 188.3 L425.6 177.5 L427.2 174.5 L428.7 174.4 L430.3 172.3 L431.8 169.2 L433.4 170.6 L434.9 167.5 L436.5 171.8 L438 167.6 L439.6 207.5 L441.1 183.3 L442.7 172.7 L444.2 159.3 L445.8 162.6 L447.3 163.6 L448.9 160.7 L450.4 165.1 L452 158.7 L453.5 157.4 L455.1 158.1 L456.6 168 L458.2 157.9 L459.7 154.1 L461.3 160.4 L462.8 149.9 L464.4 169.1 L465.9 145.9 L467.5 162.2 L469 156.9 L470.6 147.7 L472.1 158.5 L473.7 158 L475.2 154.6 L476.8 180 L478.3 168.2 L479.9 150.5 L481.4 152.1 L483 148.3 L484.5 152.2 L486.1 142.1 L487.6 152.9 L489.2 142.1 L490.7 141.4 L492.3 147.9 L493.8 151.6 L495.4 145.8 L496.9 150.2 L498.5 146.3 L500 137.3 L501.6 140.7 L503.1 139.7 L504.7 126.8 L506.2 142.2 L507.8 130.3 L509.3 134.4 L510.9 128.1 L512.4 138.7 L514 130.3 L515.5 137.6 L517.1 138.5 L518.6 128.8 L520.2 136.6 L521.7 126.7 L523.3 120.6 L524.8 132 L526.4 129.3 L527.9 136 L529.5 129.2 L531 128.6 L532.6 121.2 L534.1 120.6 L535.7 127.4 L537.2 134.8 L538.8 125.9 L540.3 133 L541.9 134.9 L543.4 126 L545 130.5" stroke="#d9302a"/>
<path d="M158.9 894.5 L160.5 833.7 L162 795.3 L163.6 767.4 L165.1 743.4 L166.7 719.8 L168.2 698.8 L169.8 682.2 L171.3 670.3 L172.9 654.8 L174.4 638.8 L176 628.7 L177.5 614.6 L179.1 597.9 L180.6 585 L182.2 576 L183.7 567.7 L185.3 566.1 L186.8 555.9 L188.4 549.5 L189.9 544.2 L191.5 542.5 L193 535.5 L194.6 534.8 L196.1 529.1 L197.7 529.2 L199.2 523 L200.8 511.4 L202.3 512.9 L203.9 509.9 L205.4 502 L207 502.3 L208.5 494.6 L210.1 490.8 L211.6 483.9 L213.2 481.9 L214.7 478.5 L216.3 468.8 L217.8 468.3 L219.4 463.6 L220.9 468.3 L222.5 458.5 L224 457.3 L225.6 453.3 L227.1 448.5 L228.7 445.5 L230.2 448.9 L231.8 448.7 L233.3 448.4 L234.9 441.1 L236.4 445.2 L238 435.9 L239.5 433.6 L241.1 430.6 L242.6 432.2 L244.2 431.2 L245.7 418.2 L247.3 422.7 L248.8 420 L250.4 412.9 L251.9 412.4 L253.5 410 L255 401.7 L256.6 414.7 L258.1 403 L259.7 402.2 L261.2 400.6 L262.8 399.2 L264.3 403.1 L265.9 393.2 L267.4 394.9 L269 387.8 L270.5 389.5 L272.1 384.7 L273.6 384.1 L275.2 379.7 L276.7 378.8 L278.3 380.3 L279.8 378.3 L281.4 375.5 L282.9 370.4 L284.5 372.5 L286 361.8 L287.6 373.1 L289.2 365.7 L290.7 366.8 L292.3 367.7 L293.8 361.3 L295.4 365.5 L296.9 358.9 L298.5 361.9 L300 356.8 L301.6 358.6 L303.1 359.9 L304.7 351.6 L306.2 352 L307.8 350.9 L309.3 351.2 L310.9 356.6 L312.4 343.5 L314 340.6 L315.5 343.8 L317.1 338.6 L318.6 341.4 L320.2 340.8 L321.7 336.5 L323.3 336.8 L324.8 331.6 L326.4 337.4 L327.9 331.6 L329.5 336.9 L331 333.9 L332.6 327.4 L334.1 328.9 L335.7 328.2 L337.2 328.9 L338.8 320 L340.3 325.4 L341.9 328.2 L343.4 320.2 L345 321.9 L346.5 319.7 L348.1 315.6 L349.6 321.9 L351.2 317.2 L352.7 317 L354.3 317.6 L355.8 316.5 L357.4 307.7 L358.9 316 L360.5 310 L362 313 L363.6 308.9 L365.1 308.7 L366.7 313.4 L368.2 316.7 L369.8 308.3 L371.3 307.6 L372.9 308 L374.4 316.4 L376 298.6 L377.5 303.6 L379.1 303 L380.6 304.7 L382.2 304.8 L383.7 296.7 L385.3 306 L386.8 296.9 L388.4 299.3 L389.9 294.6 L391.5 294.5 L393 299.6 L394.6 292.4 L396.1 293.5 L397.7 295.9 L399.2 296 L400.8 285.4 L402.3 291 L403.9 289.3 L405.4 294.3 L407 294.2 L408.5 286 L410.1 288.5 L411.6 288.5 L413.2 288.6 L414.7 283.4 L416.3 287.4 L417.9 281 L419.4 275.9 L421 280.2 L422.5 283 L424.1 283.2 L425.6 273.3 L427.2 276.3 L428.7 280 L430.3 268.3 L431.8 282.1 L433.4 279.2 L434.9 267.2 L436.5 280.5 L438 273.5 L439.6 279.2 L441.1 273.5 L442.7 272.6 L444.2 273.1 L445.8 274.6 L447.3 271.3 L448.9 271 L450.4 266.1 L452 272.3 L453.5 268.8 L455.1 274.4 L456.6 266.8 L458.2 267.8 L459.7 265.3 L461.3 269.1 L462.8 264.5 L464.4 263.3 L465.9 269.6 L467.5 267.7 L469 260.6 L470.6 259.8 L472.1 265.5 L473.7 257.4 L475.2 269.5 L476.8 256.9 L478.3 262.5 L479.9 253.6 L481.4 258.8 L483 260 L484.5 257 L486.1 254 L487.6 262.8 L489.2 254.7 L490.7 253 L492.3 251.5 L493.8 252 L495.4 255.8 L496.9 247.7 L498.5 251.2 L500 246.9 L501.6 253.3 L503.1 246.6 L504.7 250.5 L506.2 247.9 L507.8 244.3 L509.3 248.2 L510.9 247.2 L512.4 240.4 L514 246.8 L515.5 252.9 L517.1 239.1 L518.6 244.5 L520.2 242.3 L521.7 242.8 L523.3 237.1 L524.8 241.6 L526.4 237.1 L527.9 233.9 L529.5 240.6 L531 234.1 L532.6 232.5 L534.1 235.4 L535.7 230.9 L537.2 235.4 L538.8 232.2 L540.3 231.4 L541.9 234 L543.4 226.8 L545 234.6" stroke="#0000ff"/>
</g>
<g class="tk">
<text x="137.4" y="876.3" text-anchor="end">0</text>
<text x="137.4" y="759" text-anchor="end">2000</text>
<text x="137.4" y="641.7" text-anchor="end">4000</text>
<text x="137.4" y="524.4" text-anchor="end">6000</text>
<text x="137.4" y="407.2" text-anchor="end">8000</text>
<text x="137.4" y="289.9" text-anchor="end">10000</text>
<text x="137.4" y="172.6" text-anchor="end">12000</text>
<text x="137.4" y="55.3" text-anchor="end">14000</text>
<text x="156.5" y="982.3" text-anchor="middle">0</text>
<text x="312.5" y="982.3" text-anchor="middle">500 k</text>
<text x="467.5" y="982.3" text-anchor="middle">1 M</text>
<text x="622.5" y="982.3" text-anchor="middle">1.5 M</text>
<text x="777.5" y="982.3" text-anchor="middle">2 M</text>
<text x="932.5" y="982.3" text-anchor="middle">2.5 M</text>
<text x="1087.5" y="982.3" text-anchor="middle">3 M</text>
</g>
<text class="lb" x="622.5" y="1024" text-anchor="middle">Timesteps</text>
<text class="lb" transform="translate(41.2 482.5) rotate(-90)" text-anchor="middle">Episode Reward</text>
<g class="leg">
<line x1="611.1" y1="55.5" x2="666.7" y2="55.5" stroke="#0072b2"/>
<text class="lg" x="688.3" y="64.8">HalfCheetah-v3_a2c (10)</text>
<line x1="611.1" y1="95.5" x2="666.7" y2="95.5" stroke="#009e73"/>
<text class="lg" x="688.3" y="104.8">HalfCheetah-v3_ddpg (10)</text>
<line x1="611.1" y1="135.5" x2="666.7" y2="135.5" stroke="#d55e00"/>
<text class="lg" x="688.3" y="144.8">HalfCheetah-v3_ppo (10)</text>
<line x1="611.1" y1="175.5" x2="666.7" y2="175.5" stroke="#cc79a7"/>
<text class="lg" x="688.3" y="184.8">HalfCheetah-v3_reinforce (10)</text>
<line x1="611.1" y1="215.5" x2="666.7" y2="215.5" stroke="#d9302a"/>
<text class="lg" x="688.3" y="224.8">HalfCheetah-v3_sac (10)</text>
<line x1="611.1" y1="255.5" x2="666.7" y2="255.5" stroke="#0000ff"/>
<text class="lg" x="688.3" y="264.8">HalfCheetah-v3_td3 (10)</text>
</g>
</svg></body></html>
